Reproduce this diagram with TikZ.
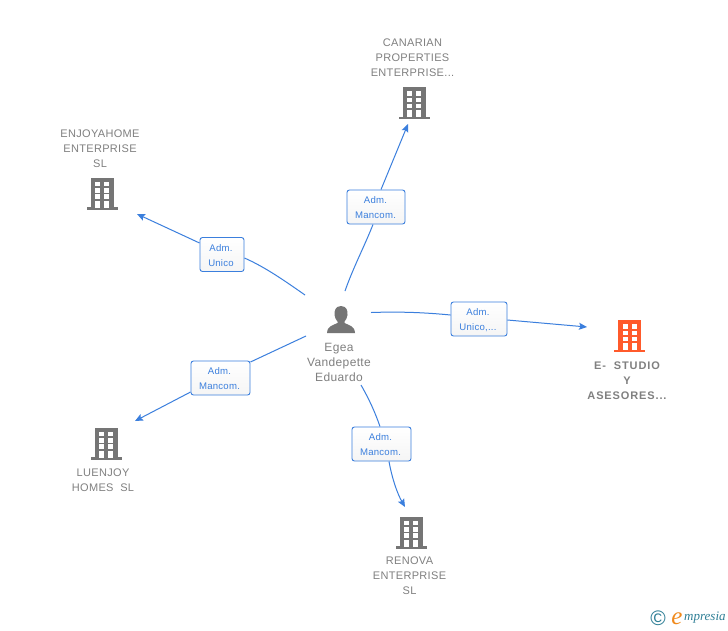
\documentclass[tikz,border=0pt]{standalone}
\usepackage{fontspec}
\setmainfont{Liberation Sans}
\newfontfamily\logofont{Liberation Serif}
\usetikzlibrary{arrows.meta,shadings}
\definecolor{conn}{HTML}{3B7FDD}
\definecolor{icong}{HTML}{757575}
\definecolor{txtg}{HTML}{808080}
\definecolor{iconor}{HTML}{FF5A2B}
\definecolor{logot}{HTML}{2F7F96}
\definecolor{logoo}{HTML}{F08A1D}
\tikzset{
  x=1pt,y=-1pt,
  conline/.style={draw=conn,line width=1pt},
  conarrow/.style={conline,-{Stealth[length=8pt,width=7pt,inset=1.5pt]}},
  rolebox/.style={draw=conn,line width=0.9pt,rounded corners=2.5pt,top color=white,bottom color=white!96!black,
    inner sep=0pt},
  roletext/.style={text=conn,font=\fontsize{9.6}{15}\selectfont\addfontfeature{LetterSpace=2.5},align=center,inner sep=0pt},
  namelabel/.style={text=txtg,font=\fontsize{11}{15}\selectfont\addfontfeature{LetterSpace=3},align=center,inner sep=0pt},
  pics/building/.style={code={
    \fill[#1] (-11.5,-16) rectangle (11.5,14);
    \fill[#1] (-15.5,13.5) rectangle (15.5,16);
    \foreach \yy in {-12,-5.5,0.5}{
      \fill[white] (-7,\yy) rectangle (-2,\yy+4.5);
      \fill[white] (2,\yy) rectangle (7,\yy+4.5);
    }
    \fill[white] (-7,7) rectangle (-2,14);
    \fill[white] (2,7) rectangle (7,14);
  }}
}
\begin{document}
\begin{tikzpicture}
\useasboundingbox (0,0) rectangle (728,630);
\fill[white] (0,0) rectangle (728,630);

% person icon
\fill[icong] (341,306) .. controls (335.5,306) and (334,311) .. (334.5,315)
  .. controls (335,318) and (336,320) .. (337.5,321.5) -- (337.5,323)
  .. controls (333,325.5) and (327.5,325.5) .. (327,333) -- (355,333)
  .. controls (354.5,325.5) and (349,325.5) .. (344.5,323) -- (344.5,321.5)
  .. controls (346,320) and (347,318) .. (347.5,315)
  .. controls (348,311) and (346.5,306) .. (341,306) -- cycle;
\node[namelabel,font=\fontsize{12}{15}\selectfont\addfontfeature{LetterSpace=3}] (hub) at (339,362.5) {Egea\\Vandepette\\Eduardo};

% buildings
\path (414,103) pic {building=icong};
\path (102,193.5) pic {building=icong};
\path (106,443.5) pic {building=icong};
\path (411,532.5) pic {building=icong};
\path (629.5,336) pic {building=iconor};

% names
\node[namelabel] (n1) at (412.5,57.5) {CANARIAN\\PROPERTIES\\ENTERPRISE...};
\node[namelabel] (n2) at (100,148.5) {ENJOYAHOME\\ENTERPRISE\\SL};
\node[namelabel] (n3) at (103,480.5) {LUENJOY\\HOMES\ \ SL};
\node[namelabel] (n4) at (409.5,576) {RENOVA\\ENTERPRISE\\SL};
\node[namelabel,font=\bfseries\fontsize{11}{15}\selectfont\addfontfeature{LetterSpace=8},text=txtg] (n5) at (627,380.5) {E-\ \ STUDIO\\Y\\ASESORES...};

% role boxes
\node[rolebox,minimum width=58pt,minimum height=34pt] (r1) at (376,207) {};
\node[rolebox,minimum width=44pt,minimum height=34pt] (r2) at (222,254.5) {};
\node[rolebox,minimum width=56pt,minimum height=34pt] (r3) at (479,319) {};
\node[rolebox,minimum width=59pt,minimum height=34pt] (r4) at (220.5,378) {};
\node[rolebox,minimum width=59pt,minimum height=34pt] (r5) at (381.5,444) {};
\node[roletext] (t1) at (375.5,208) {Adm.\\Mancom.};
\node[roletext] (t2) at (221,255.5) {Adm.\\Unico};
\node[roletext] (t3) at (478,320) {Adm.\\Unico,...};
\node[roletext] (t4) at (219.5,379) {Adm.\\Mancom.};
\node[roletext] (t5) at (380.5,445) {Adm.\\Mancom.};

% connector ends
\coordinate (s1) at (345,291);
\coordinate (s2) at (305,295);
\coordinate (s3) at (371,312.5);
\coordinate (s4) at (306,336);
\coordinate (s5) at (361,385);
\coordinate (e1) at (408,124);
\coordinate (e2) at (137,214);
\coordinate (e3) at (587,327);
\coordinate (e4) at (135,421);
\coordinate (e5) at (405,507);

\draw[conline] (s1) .. controls (353,268) and (365,245) .. (r1.south -| 373,0);
\draw[conarrow] (r1.north -| 381,0) -- (e1);
\draw[conline] (s2) .. controls (285,281) and (265,267) .. (r2.east |- 0,258);
\draw[conarrow] (r2.west |- 0,243) -- (e2);
\draw[conline] (s3) .. controls (400,311.5) and (425,312.5) .. (r3.west |- 0,315);
\draw[conarrow] (r3.east |- 0,320) -- (e3);
\draw[conline] (s4) -- (r4.east |- 0,362);
\draw[conarrow] (r4.west |- 0,392) -- (e4);
\draw[conline] (s5) .. controls (369,399) and (375,412) .. (r5.north -| 380,0);
\draw[conarrow] (r5.south -| 389,0) .. controls (392,478) and (397,493) .. (e5);

% logo
\node[text=logot,font=\fontsize{21}{21}\selectfont,inner sep=0pt] (c) at (658,618.5) {©};
\node[text=logoo,font=\logofont\itshape\fontsize{25}{25}\selectfont,inner sep=0pt,anchor=base] (le) at (677,624) {e};
\node[text=logot,font=\logofont\itshape\fontsize{13}{13}\selectfont,inner sep=0pt,anchor=west] (lm) at (684,618) {mpresia};
\end{tikzpicture}
\end{document}
